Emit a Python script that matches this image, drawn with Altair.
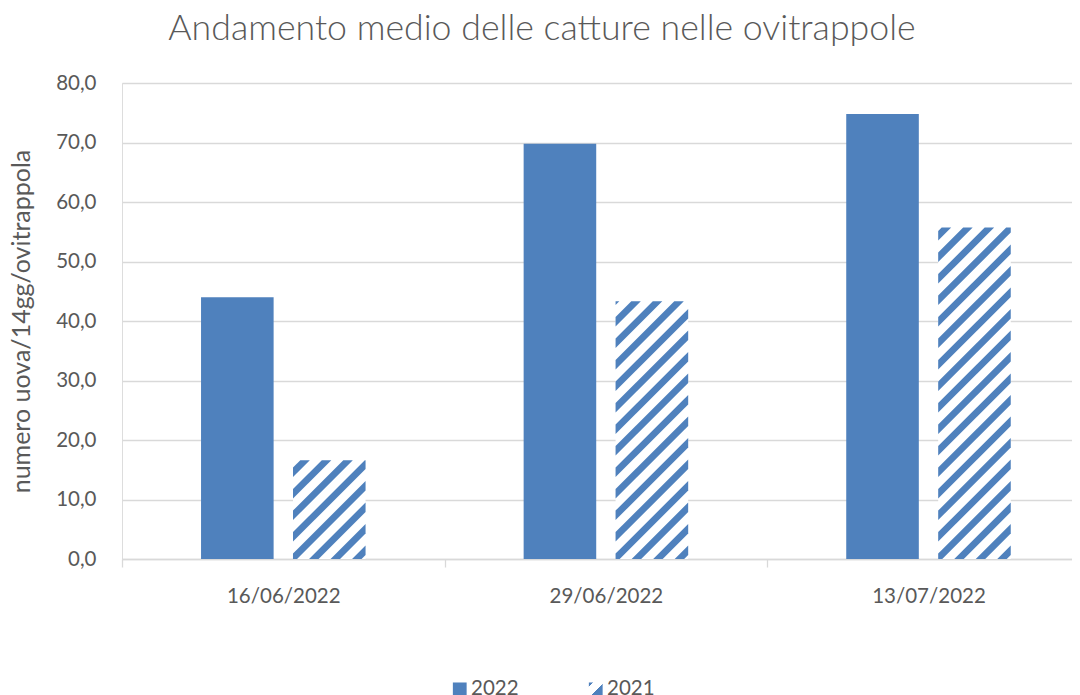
import json
import altair as alt
import pandas as pd

# ---- data ----
dates = ["16/06/2022", "29/06/2022", "13/07/2022"]
series_names = ["2022", "2021"]
values_2022 = [44.0, 69.8, 74.8]
values_2021 = [16.6, 43.3, 55.7]
y_ticks = [0, 10, 20, 30, 40, 50, 60, 70, 80]

# ---- style ----
BLUE = "#4F81BD"
TEXT = "#595959"
GRID = "#D9D9D9"
FONT = "Lato"

PLOT_W = 950          # visible plot width (the chart is cut at the right edge)
PLOT_H = 476
SX = 322.6            # px per category
SY = PLOT_H / 80      # px per y unit
X_MAX = PLOT_W / SX   # visible part of the 3 categories
BAR_W = 0.225         # bar width in category units
GAP = 0.06            # gap between the two bars
P = 21.5              # hatch period (horizontal px)
B = 9.5               # hatch stripe width (horizontal px)
PHASE = 4

rows = []
for i, d in enumerate(dates):
    for s, vals in ((0, values_2022), (1, values_2021)):
        rows.append({"date": d, "idx": i, "sidx": s,
                     "series": series_names[s], "value": vals[i]})
df = pd.DataFrame(rows)

xscale = alt.Scale(domain=[0, X_MAX], nice=False, zero=False)
yscale = alt.Scale(domain=[0, 80], nice=False)

label_expr_x = f"datum.value < 3 ? {json.dumps(dates)}[datum.value] : ''"

x_axis = alt.Axis(values=[0, 1, 2, 3], labelExpr=label_expr_x, labelOffset=SX / 2,
                  tickSize=8, tickColor=GRID, tickWidth=1.3, domainColor=GRID,
                  domainWidth=1.3, grid=False, labelFlush=False, labelOverlap=False,
                  labelFont=FONT, labelFontSize=20.5, labelColor=TEXT, labelPadding=19,
                  title=None)
y_axis = alt.Axis(values=y_ticks,
                  labelExpr="replace(format(datum.value, '.1f'), '.', ',')",
                  domain=False, ticks=False, grid=True, gridColor=GRID, gridWidth=1.3,
                  labelFont=FONT, labelFontSize=20.5, labelColor=TEXT, labelPadding=26,
                  title="numero uova/14gg/ovitrappola", titleFont=FONT,
                  titleFontSize=25, titleFontWeight="normal", titleColor=TEXT,
                  titlePadding=21)

base = (alt.Chart(df)
        .transform_calculate(x0=f"datum.idx + 0.5 - {GAP / 2} - {BAR_W} + datum.sidx * {BAR_W + GAP}")
        .transform_calculate(x1=f"datum.x0 + {BAR_W}"))

bars = base.mark_rect().encode(
    x=alt.X("x0:Q", scale=xscale, axis=x_axis),
    x2="x1:Q",
    y=alt.Y("value:Q", scale=yscale, axis=y_axis),
    y2=alt.datum(0),
    fill=alt.condition(alt.datum.series == "2022", alt.value(BLUE), alt.value("white")),
)

# "/" hatching: stripes v + u' = c with u' measured from the bar's right edge
hatch = (base
         .transform_filter(alt.datum.series == "2021")
         .transform_calculate(w=f"{BAR_W * SX}")
         .transform_calculate(h=f"datum.value * {SY}")
         .transform_calculate(ks="sequence(0, 40)")
         .transform_flatten(["ks"], as_=["k"])
         .transform_calculate(c1=f"{PHASE} + (datum.k - 1) * {P}")
         .transform_calculate(c2=f"datum.c1 + {B}")
         .transform_filter("datum.c2 > 0 && datum.c1 < datum.w + datum.h")
         .transform_calculate(lo="max(0, datum.c1 - datum.h)")
         .transform_calculate(hi="min(datum.w, datum.c2)")
         .transform_calculate(pts="[datum.lo, clamp(datum.c1, datum.lo, datum.hi), "
                                  "clamp(datum.c2 - datum.h, datum.lo, datum.hi), datum.hi]")
         .transform_flatten(["pts"], as_=["u"])
         .transform_calculate(hx=f"datum.x0 + (datum.w - datum.u) / {SX}")
         .transform_calculate(hy=f"max(0, datum.c1 - datum.u) / {SY}")
         .transform_calculate(hy2=f"min(datum.h, datum.c2 - datum.u) / {SY}")
         .transform_calculate(sid="datum.date + '_' + datum.k")
         .mark_area(orient="vertical", interpolate="linear", color=BLUE)
         .encode(x=alt.X("hx:Q", scale=xscale),
                 y=alt.Y("hy:Q", scale=yscale),
                 y2="hy2:Q",
                 detail="sid:N"))

legend_grad = ("{gradient: 'linear', x1: 0, y1: 0, x2: 1, y2: 1, stops: ["
               f"{{offset: 0, color: '{BLUE}'}}, {{offset: 0.14, color: '{BLUE}'}}, "
               "{offset: 0.14, color: 'white'}, {offset: 0.55, color: 'white'}, "
               f"{{offset: 0.55, color: '{BLUE}'}}, {{offset: 1, color: '{BLUE}'}}]}}")

legend_layer = base.mark_square(opacity=0).encode(
    x=alt.X("x0:Q", scale=xscale),
    y=alt.Y("value:Q", scale=yscale),
    color=alt.Color("series:N",
                    scale=alt.Scale(domain=series_names,
                                    range=[BLUE, alt.ExprRef(legend_grad)]),
                    legend=alt.Legend(title=None, orient="none", direction="horizontal",
                                      legendX=327.5, legendY=596, padding=0,
                                      symbolType="square", symbolSize=190,
                                      symbolStrokeWidth=0, labelFont=FONT,
                                      labelFontSize=20.5, labelColor=TEXT,
                                      labelOffset=1, columnPadding=66)),
)

chart = (alt.layer(bars, hatch, legend_layer)
         .properties(
             width=PLOT_W, height=PLOT_H,
             autosize=alt.AutoSizeParams(type="none"),
             padding={"left": 114, "top": 75, "right": 0, "bottom": 138},
             title=alt.TitleParams(
                 text="Andamento medio delle catture nelle ovitrappole",
                 font=FONT, fontSize=35.7, fontWeight=300, color=TEXT,
                 anchor="middle", dx=-55, offset=25.5))
         .configure_view(stroke=None)
         .configure(background="white"))

chart.save("out.html", embed_options={"renderer": "svg", "actions": False})
